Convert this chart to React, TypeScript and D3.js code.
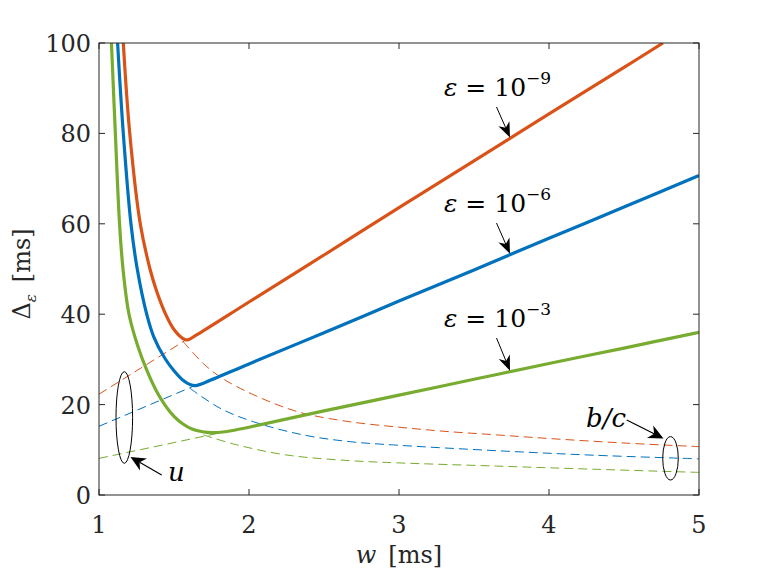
import React, { useRef, useEffect } from "react";
import * as d3 from "d3";

type Pt = [number, number];

// axis ticks
const xTicks = [1, 2, 3, 4, 5];
const yTicks = [0, 20, 40, 60, 80, 100];

// solid curves: Delta_eps(w)
const deltaE9: Pt[] = [
  [1.162, 100], [1.205, 80], [1.275, 60], [1.34, 50], [1.385, 45], [1.44, 40.3],
  [1.5, 36.6], [1.56, 34.6], [1.59, 34.3], [1.65, 35.4],
  [2, 42.7], [2.5, 53.1], [3, 63.6], [3.5, 73.9], [4, 84.3], [4.5, 94.6], [4.76, 100],
];
const deltaE6: Pt[] = [
  [1.124, 100], [1.162, 80], [1.213, 60], [1.255, 50], [1.318, 40], [1.365, 35],
  [1.44, 30.2], [1.5, 27.5], [1.56, 25.4], [1.61, 24.4], [1.645, 24.2], [1.7, 24.8],
  [2, 29], [2.5, 35.9], [3, 42.9], [3.5, 49.8], [4, 56.8], [4.5, 63.7], [5, 70.7],
];
const deltaE3: Pt[] = [
  [1.083, 100], [1.109, 80], [1.137, 60], [1.16, 50], [1.2, 40], [1.26, 32.8],
  [1.32, 27.5], [1.38, 23.2], [1.44, 19.9], [1.5, 17.4], [1.56, 15.7], [1.62, 14.6],
  [1.69, 14.0], [1.75, 13.8], [1.84, 14.0], [1.94, 14.6], [2, 15.0], [2.5, 18.6],
  [3, 22.1], [3.5, 25.6], [4, 29.1], [4.5, 32.5], [5, 36],
];

// dashed: u (rising part)
const uE9: Pt[] = [[1, 22.3], [1.57, 34.1]];
const uE6: Pt[] = [[1, 15.2], [1.625, 24.0]];
const uE3: Pt[] = [[1, 8.1], [1.8, 13.7]];

// dashed: b/c (falling part)
const bcE9: Pt[] = [
  [1.562, 33.9], [1.695, 29.1], [1.8, 26.3], [1.918, 24.0], [2.14, 20.6], [2.36, 18.1],
  [2.673, 16.2], [3, 15.0], [3.3, 14.1], [3.65, 13.3], [4, 12.5], [4.5, 11.5], [5, 10.7],
];
const bcE6: Pt[] = [
  [1.607, 23.6], [1.807, 19.2], [2.03, 16.2], [2.36, 13.3], [2.673, 11.8], [3, 11.0],
  [3.65, 9.8], [4.3, 8.8], [5, 8.0],
];
const bcE3: Pt[] = [
  [1.695, 13.3], [1.918, 11.1], [2.25, 8.85], [2.673, 7.6], [3, 7.1], [3.65, 6.4],
  [4.3, 5.7], [5, 5.0],
];

const epsExponents = ["\u22129", "\u22126", "\u22123"];

const colors = ["#D95319", "#0072BD", "#77AC30"];
const FONT = "DejaVu Serif, Liberation Serif, serif";

const App: React.FC = () => {
  const svgRef = useRef<SVGSVGElement>(null);

  const width = 772;
  const height = 579;
  const margin = { top: 43, right: 73, bottom: 84, left: 99 };

  useEffect(() => {
    const svg = d3.select(svgRef.current);
    svg.selectAll("*").remove();

    const chartWidth = width - margin.left - margin.right;
    const chartHeight = height - margin.top - margin.bottom;

    const x = d3.scaleLinear().domain([1, 5]).range([0, chartWidth]);
    const y = d3.scaleLinear().domain([0, 100]).range([chartHeight, 0]);

    svg.append("rect").attr("width", width).attr("height", height).attr("fill", "#fff");

    svg
      .append("defs")
      .append("clipPath")
      .attr("id", "plotclip")
      .append("rect")
      .attr("width", chartWidth)
      .attr("height", chartHeight);

    const g = svg
      .append("g")
      .attr("transform", `translate(${margin.left},${margin.top})`);

    const line = d3
      .line<Pt>()
      .x((d) => x(d[0]))
      .y((d) => y(d[1]))
      .curve(d3.curveCatmullRom.alpha(0.5));

    const plot = g.append("g").attr("clip-path", "url(#plotclip)");

    // dashed u and b/c
    [uE9, uE6, uE3, bcE9, bcE6, bcE3].forEach((s, i) => {
      plot
        .append("path")
        .attr("d", line(s))
        .attr("fill", "none")
        .attr("stroke", colors[i % 3])
        .attr("stroke-width", 1)
        .attr("stroke-dasharray", "9,5");
    });

    // solid curves
    [deltaE9, deltaE6, deltaE3].forEach((s, i) => {
      plot
        .append("path")
        .attr("d", line(s))
        .attr("fill", "none")
        .attr("stroke", colors[i])
        .attr("stroke-width", 3.2)
        .attr("stroke-linejoin", "round");
    });

    // axes box
    const axisColor = "#262626";
    g.append("rect")
      .attr("width", chartWidth)
      .attr("height", chartHeight)
      .attr("fill", "none")
      .attr("stroke", axisColor)
      .attr("stroke-width", 1);

    const tickLen = 6;
    xTicks.forEach((t) => {
      g.append("line")
        .attr("x1", x(t)).attr("x2", x(t))
        .attr("y1", chartHeight).attr("y2", chartHeight - tickLen)
        .attr("stroke", axisColor);
      g.append("line")
        .attr("x1", x(t)).attr("x2", x(t))
        .attr("y1", 0).attr("y2", tickLen)
        .attr("stroke", axisColor);
      g.append("text")
        .attr("x", x(t))
        .attr("y", chartHeight + 38)
        .attr("text-anchor", "middle")
        .attr("font-family", FONT)
        .attr("font-size", 24)
        .attr("fill", axisColor)
        .text(t);
    });
    yTicks.forEach((t) => {
      g.append("line")
        .attr("x1", 0).attr("x2", tickLen)
        .attr("y1", y(t)).attr("y2", y(t))
        .attr("stroke", axisColor);
      g.append("line")
        .attr("x1", chartWidth).attr("x2", chartWidth - tickLen)
        .attr("y1", y(t)).attr("y2", y(t))
        .attr("stroke", axisColor);
      g.append("text")
        .attr("x", -8)
        .attr("y", y(t) + 9)
        .attr("text-anchor", "end")
        .attr("font-family", FONT)
        .attr("font-size", 24)
        .attr("fill", axisColor)
        .text(t);
    });

    // x label
    const xl = svg
      .append("text")
      .attr("x", margin.left + chartWidth / 2)
      .attr("y", 563)
      .attr("text-anchor", "middle")
      .attr("font-family", FONT)
      .attr("font-size", 24)
      .attr("fill", axisColor);
    xl.append("tspan").attr("font-style", "italic").text("w");
    xl.append("tspan").text("\u2002[ms]");

    // y label
    const yl = svg
      .append("text")
      .attr("transform", `translate(30, ${274}) rotate(-90)`)
      .attr("text-anchor", "middle")
      .attr("font-family", FONT)
      .attr("font-size", 24)
      .attr("fill", axisColor);
    yl.append("tspan").text("\u0394");
    yl.append("tspan").attr("dy", 6).attr("font-size", 15).attr("font-style", "italic").text("\u03b5");
    yl.append("tspan").attr("dy", -6).text("\u2002[ms]");

    // epsilon labels and arrows
    const labelBase = [96, 212, 327];
    const arrowTips = [deltaE9, deltaE6, deltaE3].map((s) => {
      const w = 3.74;
      const xv = d3.scaleLinear().domain(s.map((d) => d[0])).range(s.map((d) => d[1]));
      return [margin.left + x(w), margin.top + y(xv(w))] as Pt;
    });

    const drawArrow = (
      x1: number, y1: number, x2: number, y2: number,
      headLen: number, headW: number, strokeW: number
    ) => {
      const dx = x2 - x1;
      const dy = y2 - y1;
      const L = Math.hypot(dx, dy);
      const ux = dx / L;
      const uy = dy / L;
      const px = -uy;
      const py = ux;
      const bx = x2 - ux * headLen;
      const by = y2 - uy * headLen;
      const nx = x2 - ux * headLen * 0.7;
      const ny = y2 - uy * headLen * 0.7;
      svg.append("line")
        .attr("x1", x1).attr("y1", y1).attr("x2", nx).attr("y2", ny)
        .attr("stroke", "#000").attr("stroke-width", strokeW);
      svg.append("path")
        .attr("d", `M${x2},${y2}L${bx + px * headW},${by + py * headW}L${nx},${ny}L${bx - px * headW},${by - py * headW}Z`)
        .attr("fill", "#000");
    };

    epsExponents.forEach((e, i) => {
      const t = svg
        .append("text")
        .attr("x", 444)
        .attr("y", labelBase[i])
        .attr("font-family", FONT)
        .attr("font-size", 25)
        .attr("fill", "#000");
      t.append("tspan").attr("font-style", "italic").text("\u03b5");
      t.append("tspan").text(" = 10");
      t.append("tspan").attr("dy", -12).attr("font-size", 17).text(e);
      const [tx, ty] = arrowTips[i];
      drawArrow(tx - 13.5, labelBase[i] + 11, tx, ty - 1, 15, 6, 1);
    });

    // u annotation
    svg.append("ellipse")
      .attr("cx", 124.3).attr("cy", 417.5).attr("rx", 8.3).attr("ry", 45.8)
      .attr("fill", "none").attr("stroke", "#000").attr("stroke-width", 1);
    drawArrow(161.7, 475, 130.5, 457, 15, 7, 1.2);
    svg.append("text")
      .attr("x", 168).attr("y", 481)
      .attr("font-family", FONT)
      .attr("font-size", 26)
      .attr("font-style", "italic")
      .text("u");

    // b/c annotation
    svg.append("ellipse")
      .attr("cx", 670.5).attr("cy", 458.3).attr("rx", 7.8).attr("ry", 21.7)
      .attr("fill", "none").attr("stroke", "#000").attr("stroke-width", 1);
    drawArrow(626.7, 420, 663.5, 438.5, 15, 7, 1.2);
    svg.append("text")
      .attr("x", 586).attr("y", 427)
      .attr("font-family", FONT)
      .attr("font-size", 26)
      .attr("font-style", "italic")
      .text("b/c");
  }, []);

  return (
    <svg
      ref={svgRef}
      width={width}
      height={height}
      style={{ position: "absolute", left: 0, top: 0 }}
    />
  );
};

export default App;
